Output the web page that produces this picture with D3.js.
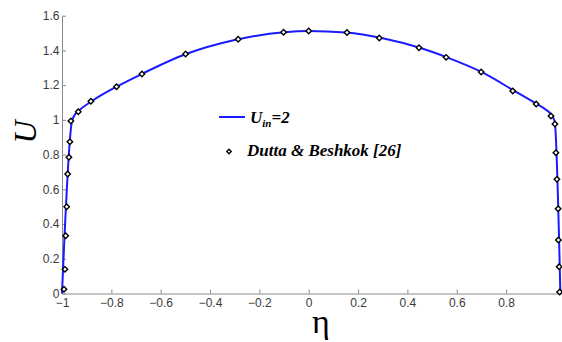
<!DOCTYPE html>
<html>
<head>
<meta charset="utf-8">
<script src="https://cdn.jsdelivr.net/npm/d3@7"></script>
<style>
  body { margin: 0; background: #fff; }
  svg { display: block; }
</style>
</head>
<body>
<svg id="chart" width="562" height="342"></svg>
<script>
// solution line (U_in = 2)
const lineEta = [-1.0, -0.96, -0.95, -0.93, -0.88, -0.78, -0.68, -0.5, -0.3, -0.1, 0, 0.15, 0.3, 0.45, 0.56, 0.7, 0.83, 0.92, 0.96, 0.98, 0.997, 1.02]
const lineU = [0.0, 0.99, 1.025, 1.055, 1.107, 1.19, 1.262, 1.378, 1.46, 1.505, 1.512, 1.503, 1.47, 1.415, 1.36, 1.276, 1.17, 1.095, 1.06, 1.035, 0.99, 0.0]

// Dutta & Beshkok [26] markers
const refEta = [-0.992, -0.988, -0.985, -0.981, -0.977, -0.972, -0.968, -0.964, -0.934, -0.883, -0.779, -0.676, -0.499, -0.286, -0.102, 0.0, 0.155, 0.286, 0.447, 0.557, 0.699, 0.827, 0.922, 0.982, 0.998, 1.002, 1.006, 1.011, 1.012, 1.015, 1.017]
const refU = [0.024, 0.139, 0.333, 0.50, 0.688, 0.785, 0.874, 0.994, 1.047, 1.107, 1.191, 1.264, 1.380, 1.464, 1.505, 1.512, 1.503, 1.472, 1.416, 1.360, 1.276, 1.166, 1.092, 1.022, 0.976, 0.811, 0.658, 0.488, 0.308, 0.154, 0.009]

const xTicks = [-1, -0.8, -0.6, -0.4, -0.2, 0, 0.2, 0.4, 0.6, 0.8]
const yTicks = [0, 0.2, 0.4, 0.6, 0.8, 1, 1.2, 1.4, 1.6]

const lineData = lineEta.map((e, i) => ({eta: e, u: lineU[i]}))
const refData = refEta.map((e, i) => ({eta: e, u: refU[i]}))

const svg = d3.select('#chart')

const xScale = d3.scaleLinear()
    .domain([-1, 1.025])
    .range([62, 561.6])

const yScale = d3.scaleLinear()
    .domain([0, 1.6])
    .range([293.5, 15.7])

const fmt = d3.format('~g')

// axes
const xAxis = svg.append('g')
    .attr('transform', 'translate(0,' + yScale(0) + ')')
    .call(d3.axisBottom(xScale)
        .tickValues(xTicks)
        .tickFormat(fmt)
        .tickSizeInner(-4)
        .tickSizeOuter(0)
        .tickPadding(4.5))

const yAxis = svg.append('g')
    .attr('transform', 'translate(' + xScale(-1) + ',0)')
    .call(d3.axisLeft(yScale)
        .tickValues(yTicks)
        .tickFormat(fmt)
        .tickSizeInner(-4)
        .tickSizeOuter(0)
        .tickPadding(2.5))

svg.selectAll('.domain, .tick line')
    .attr('stroke', '#8a8a8a')
    .attr('stroke-width', 1)
svg.selectAll('.tick text')
    .attr('fill', '#3a3a3a')
    .style('font-family', '"Liberation Sans", Arial, sans-serif')
    .style('font-size', '12px')

// axis labels
svg.append('text')
    .attr('transform', 'translate(36,132) rotate(-90)')
    .attr('text-anchor', 'middle')
    .style('font-family', '"Liberation Serif", "Times New Roman", serif')
    .style('font-style', 'italic')
    .style('font-size', '32px')
    .text('U')

svg.append('text')
    .attr('x', 321)
    .attr('y', 333)
    .attr('text-anchor', 'middle')
    .style('font-family', '"Liberation Serif", "Times New Roman", serif')
    .style('font-size', '34px')
    .text('η')

// line
const line = d3.line()
    .x(d => xScale(d.eta))
    .y(d => yScale(d.u))
    .curve(d3.curveMonotoneX)

svg.append('path')
    .datum(lineData)
    .attr('d', line)
    .attr('fill', 'none')
    .attr('stroke', '#1a1aff')
    .attr('stroke-width', 2)

// markers
const diamond = d3.symbol().type(d3.symbolSquare).size(15)

svg.selectAll('.refPoint')
    .data(refData)
    .join('path')
    .attr('class', 'refPoint')
    .attr('d', diamond)
    .attr('transform', d => 'translate(' + xScale(d.eta) + ',' + yScale(d.u) + ') rotate(45)')
    .attr('fill', 'white')
    .attr('stroke', 'black')
    .attr('stroke-width', 1.4)

// legend
const legend = svg.append('g')
const legendFont = '"Liberation Serif", "Times New Roman", serif'

legend.append('line')
    .attr('x1', 219).attr('x2', 245)
    .attr('y1', 117).attr('y2', 117)
    .attr('stroke', '#1a1aff')
    .attr('stroke-width', 2)

const t1 = legend.append('text')
    .attr('x', 250)
    .attr('y', 123)
    .style('font-family', legendFont)
    .style('font-weight', 'bold')
    .style('font-style', 'italic')
    .style('font-size', '17px')
t1.append('tspan').text('U')
t1.append('tspan').attr('dy', 4).style('font-size', '11px').text('in')
t1.append('tspan').attr('dy', -4).text('=2')

legend.append('path')
    .attr('d', d3.symbol().type(d3.symbolSquare).size(10))
    .attr('transform', 'translate(229,151.5) rotate(45)')
    .attr('fill', 'white')
    .attr('stroke', 'black')
    .attr('stroke-width', 1.3)

legend.append('text')
    .attr('x', 247)
    .attr('y', 156)
    .style('font-family', legendFont)
    .style('font-weight', 'bold')
    .style('font-style', 'italic')
    .style('font-size', '17px')
    .text('Dutta & Beshkok [26]')
</script>
</body>
</html>
